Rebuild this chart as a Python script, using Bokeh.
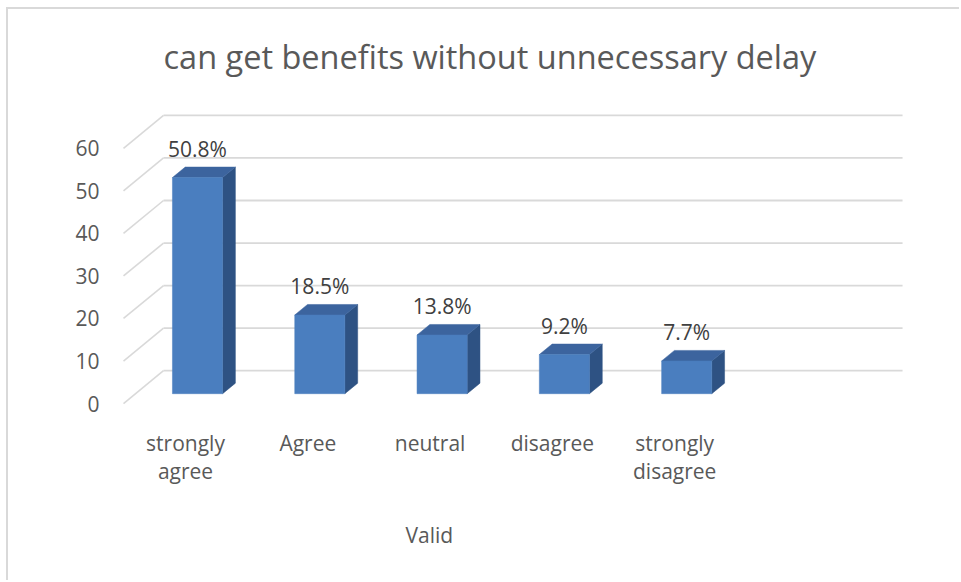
from bokeh.plotting import figure
from bokeh.models import FixedTicker, ColumnDataSource, Range1d, Title
from bokeh.core.properties import value
from bokeh.embed import file_html
from bokeh.resources import INLINE

# Survey answers: share of respondents (%)
categories = ["strongly agree", "Agree", "neutral", "disagree", "strongly disagree"]
tick_labels = ["strongly\nagree", "Agree", "neutral", "disagree", "strongly\ndisagree"]
percent = [50.8, 18.5, 13.8, 9.2, 7.7]
y_ticks = [0, 10, 20, 30, 40, 50, 60]

# Oblique projection used for the 3-D look: one unit of depth shifts x and y by
DEPTH_X = 0.327
DEPTH_Y = 7.73
BAR_FRONT = 0.30     # depth of the bar front faces
BAR_BACK = 0.62      # depth of the bar back faces
BAR_W = 0.41
WALL_LEFT = -0.507   # front-left corner of the side wall
WALL_RIGHT = 5.863   # right end of the back wall

FONT = "Open Sans"
TEXT = "#595959"
GRID = "#d9d9d9"
SIZE = "21px"

p = figure(width=953, height=573, output_backend="svg", toolbar_location=None,
           x_range=Range1d(-0.548, 6.345), y_range=Range1d(-3.98, 71.0),
           min_border_left=110, min_border_right=0, min_border_top=91,
           min_border_bottom=162, outline_line_color=None)

# chart-area border on the left and top edges
p.styles = {"margin-left": "6px", "margin-top": "7px",
            "border-left": "2px solid #d9d9d9", "border-top": "2px solid #d9d9d9"}

p.add_layout(Title(text="can get benefits without unnecessary delay", align="left",
                   offset=45, standoff=45, text_font=FONT, text_font_size="32.5px",
                   text_font_style="normal", text_color=TEXT), "above")

p.xgrid.visible = False
p.ygrid.visible = False

# value axis (front edge of the side wall)
p.yaxis.ticker = FixedTicker(ticks=y_ticks)
p.yaxis.axis_line_color = None
p.yaxis.major_tick_line_color = None
p.yaxis.minor_tick_line_color = None
p.yaxis.major_label_standoff = 13
p.yaxis.major_label_text_font = FONT
p.yaxis.major_label_text_font_size = SIZE
p.yaxis.major_label_text_color = TEXT

# category axis
p.xaxis.ticker = FixedTicker(ticks=list(range(len(categories))))
p.xaxis.major_label_overrides = {i: lab for i, lab in enumerate(tick_labels)}
p.xaxis.axis_line_color = None
p.xaxis.major_tick_line_color = None
p.xaxis.minor_tick_line_color = None
p.xaxis.major_label_standoff = 2
p.xaxis.major_label_text_font = FONT
p.xaxis.major_label_text_font_size = SIZE
p.xaxis.major_label_text_color = TEXT
p.xaxis.major_label_text_line_height = 1.0

# category-axis caption
p.add_layout(Title(text="Valid", align="left", offset=287, standoff=63,
                   text_font=FONT, text_font_size=SIZE, text_font_style="normal",
                   text_color=TEXT), "below")

# side wall: one diagonal per tick, back wall: horizontal gridlines
back_left = WALL_LEFT + DEPTH_X
p.multi_line(xs=[[WALL_LEFT, back_left] for _ in y_ticks],
             ys=[[t, t + DEPTH_Y] for t in y_ticks],
             line_color=GRID, line_width=1.6)
p.multi_line(xs=[[back_left, WALL_RIGHT] for _ in y_ticks],
             ys=[[t + DEPTH_Y, t + DEPTH_Y] for t in y_ticks],
             line_color=GRID, line_width=1.8)

# 3-D bars: front, top and side faces
dd = BAR_BACK - BAR_FRONT
front_x, front_y, top_x, top_y, side_x, side_y = [], [], [], [], [], []
for i, v in enumerate(percent):
    c = i + BAR_FRONT * DEPTH_X
    l, r = c - BAR_W / 2, c + BAR_W / 2
    y0 = BAR_FRONT * DEPTH_Y
    y1 = v + BAR_FRONT * DEPTH_Y
    sx, sy = dd * DEPTH_X, dd * DEPTH_Y
    front_x.append([l, r, r, l])
    front_y.append([y0, y0, y1, y1])
    top_x.append([l, r, r + sx, l + sx])
    top_y.append([y1, y1, y1 + sy, y1 + sy])
    side_x.append([r, r + sx, r + sx, r])
    side_y.append([y0, y0 + sy, y1 + sy, y1])

p.patches(xs=side_x, ys=side_y, fill_color="#2e5283", line_color="#2e5283", line_width=0.5)
p.patches(xs=top_x, ys=top_y, fill_color="#3c649e", line_color="#3c649e", line_width=0.5)
p.patches(xs=front_x, ys=front_y, fill_color="#4a7ebf", line_color="#4a7ebf", line_width=0.5)

# value labels above each bar
labels = ColumnDataSource(data=dict(
    x=[i + BAR_FRONT * DEPTH_X for i in range(len(percent))],
    y=[v + BAR_BACK * DEPTH_Y for v in percent],
    text=[f"{v}%" for v in percent],
))
p.text(x="x", y="y", text="text", source=labels, text_align="center",
       text_baseline="bottom", y_offset=-4, text_font=value(FONT),
       text_font_size=SIZE, text_color="#404040")

open("out.html", "w").write(file_html(p, INLINE))
